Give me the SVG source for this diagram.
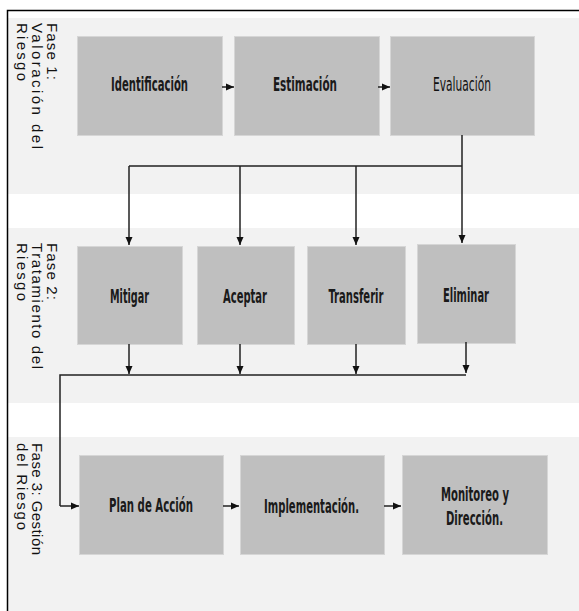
<svg xmlns="http://www.w3.org/2000/svg" width="579" height="611" viewBox="0 0 579 611">
<style>
.band{fill:#f2f2f2}
.box{fill:#bfbfbf;stroke:#d6d6d6;stroke-width:1}
.bt{font-family:"Liberation Sans Narrow","DejaVu Sans Condensed","Liberation Sans",sans-serif;font-size:20px;font-weight:bold;fill:#1a1a1a;text-anchor:middle}
.bt.n{font-weight:normal;fill:#111}
.ph{font-family:"Liberation Sans",Arial,sans-serif;font-size:15px;fill:#111}
.ln{fill:none;stroke:#222;stroke-width:1.5}
.la{fill:none;stroke:#222;stroke-width:1.5;marker-end:url(#ah)}
</style>
<defs>
<marker id="ah" markerUnits="userSpaceOnUse" markerWidth="9" markerHeight="8" refX="8" refY="4" orient="auto">
<path d="M0,0.5 L8,4 L0,7.5 z" fill="#111"/>
</marker>
</defs>
<rect width="579" height="611" fill="#fff"/>
<g id="bands">
<rect class="band" x="8" y="18" width="571" height="176"/>
<rect class="band" x="8" y="228" width="571" height="175"/>
<rect class="band" x="8" y="437" width="571" height="174"/>
</g>
<path d="M7.5,611 V10.5 H579" fill="none" stroke="#000" stroke-width="1.5"/>
<g id="fase1-label" class="ph">
<text transform="translate(47,23) rotate(90)" x="0" y="0" textLength="57" lengthAdjust="spacing">Fase 1:</text>
<text transform="translate(47,23) rotate(90)" x="0" y="15" textLength="126" lengthAdjust="spacing">Valoración del</text>
<text transform="translate(47,23) rotate(90)" x="0" y="30" textLength="58" lengthAdjust="spacing">Riesgo</text>
</g>
<g id="fase2-label" class="ph">
<text transform="translate(47,243) rotate(90)" x="0" y="0" textLength="57" lengthAdjust="spacing">Fase 2:</text>
<text transform="translate(47,243) rotate(90)" x="0" y="15" textLength="126" lengthAdjust="spacing">Tratamiento del</text>
<text transform="translate(47,243) rotate(90)" x="0" y="30" textLength="58" lengthAdjust="spacing">Riesgo</text>
</g>
<g id="fase3-label" class="ph">
<text transform="translate(32,443) rotate(90)" x="0" y="0" textLength="112" lengthAdjust="spacing">Fase 3: Gestión</text>
<text transform="translate(32,443) rotate(90)" x="0" y="15" textLength="87" lengthAdjust="spacing">del Riesgo</text>
</g>
<g id="identificacion"><rect class="box" x="77.5" y="36.5" width="145" height="99"/><text class="bt" x="149.5" y="91" textLength="77" lengthAdjust="spacingAndGlyphs">Identificación</text></g>
<g id="estimacion"><rect class="box" x="234.5" y="36.5" width="145" height="99"/><text class="bt" x="305" y="91" textLength="64" lengthAdjust="spacingAndGlyphs">Estimación</text></g>
<g id="evaluacion"><rect class="box" x="390.5" y="36.5" width="144" height="99"/><text class="bt n" x="462" y="91" textLength="58" lengthAdjust="spacingAndGlyphs">Evaluación</text></g>
<g id="mitigar"><rect class="box" x="77.5" y="246.5" width="105" height="98"/><text class="bt" x="129.5" y="303" textLength="39" lengthAdjust="spacingAndGlyphs">Mitigar</text></g>
<g id="aceptar"><rect class="box" x="197.5" y="246.5" width="97" height="98"/><text class="bt" x="245" y="303" textLength="44" lengthAdjust="spacingAndGlyphs">Aceptar</text></g>
<g id="transferir"><rect class="box" x="307.5" y="246.5" width="98" height="98"/><text class="bt" x="356" y="303" textLength="55" lengthAdjust="spacingAndGlyphs">Transferir</text></g>
<g id="eliminar"><rect class="box" x="417.5" y="244.5" width="98" height="99"/><text class="bt" x="466" y="302" textLength="46" lengthAdjust="spacingAndGlyphs">Eliminar</text></g>
<g id="plan"><rect class="box" x="79.5" y="455.5" width="144" height="99"/><text class="bt" x="151" y="512" textLength="84" lengthAdjust="spacingAndGlyphs">Plan de Acción</text></g>
<g id="implementacion"><rect class="box" x="240.5" y="455.5" width="144" height="99"/><text class="bt" x="311.5" y="513" textLength="95" lengthAdjust="spacingAndGlyphs">Implementación.</text></g>
<g id="monitoreo"><rect class="box" x="402.5" y="455.5" width="145" height="99"/><text class="bt" x="475" y="501" textLength="68" lengthAdjust="spacingAndGlyphs">Monitoreo y</text><text class="bt" x="474.5" y="525" textLength="57" lengthAdjust="spacingAndGlyphs">Dirección.</text></g>
<g id="connectors">
<path class="la" d="M222,87 H234"/>
<path class="la" d="M378,87 H390"/>
<path class="ln" d="M462,135 V166 M129,166 H462"/>
<path class="la" d="M129,166 V245"/>
<path class="la" d="M240,166 V245"/>
<path class="la" d="M356,166 V245"/>
<path class="la" d="M462,166 V243"/>
<path class="la" d="M129,344 V374"/>
<path class="la" d="M240,344 V374"/>
<path class="la" d="M356,344 V374"/>
<path class="la" d="M466,342 V373"/>
<path class="ln" d="M466,375 H60 V506"/>
<path class="la" d="M60,506 H79"/>
<path class="la" d="M223,506 H239"/>
<path class="la" d="M384,506 H401"/>
</g>
</svg>
